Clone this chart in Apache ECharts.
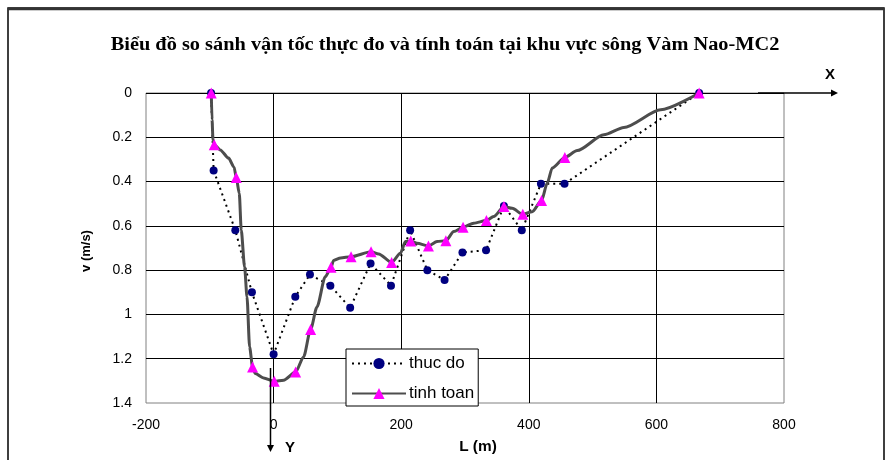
<!DOCTYPE html>
<html>
<head>
<meta charset="utf-8">
<script src="https://cdn.jsdelivr.net/npm/echarts@6/dist/echarts.min.js"></script>
<style>html,body{margin:0;padding:0;background:#fff}#c{width:886px;height:460px}</style>
</head>
<body>
<div id="c"></div>
<script>
// ---- data ----
var titleText = 'Biểu đồ so sánh vận tốc thực đo và tính toán tại khu vực sông Vàm Nao-MC2';
var xTicks = [-200, 0, 200, 400, 600, 800];
var yTicks = [0, 0.2, 0.4, 0.6, 0.8, 1, 1.2, 1.4];

// measured ("thuc do")
var measL = [-98, -94, -60, -34, 0, 34, 57, 89, 120, 152, 184, 214, 241, 268, 296, 333, 361, 389, 419, 456, 667];
var measV = [0, 0.35, 0.62, 0.90, 1.18, 0.92, 0.82, 0.87, 0.97, 0.77, 0.87, 0.62, 0.80, 0.845, 0.72, 0.71, 0.51, 0.62, 0.41, 0.41, 0];

// computed ("tinh toan") - marked points (triangles)
var calcPtL = [-97.7, -93, -58.5, -33, 1, 34.5, 58, 90, 121.4, 152.8, 185, 215, 242.7, 270, 297, 333.6, 361, 390.6, 420, 456.5, 667];
var calcPtV = [0, 0.234, 0.382, 1.237, 1.302, 1.26, 1.068, 0.787, 0.739, 0.717, 0.765, 0.668, 0.691, 0.667, 0.606, 0.576, 0.513, 0.548, 0.486, 0.291, 0];

// computed profile - intermediate curve points
var calcCurveL = [-96.5, -95, -83.6, -70.6, -62, -53.8, -50.7, -45.5, -41.7, -37.6, -28.7, -15.7, 15.7, 47, 68, 81, 94, 105, 164.7, 198.7, 206.6, 224.9, 256.3, 282.4, 313.7, 345, 374, 405.3, 428.9, 436.7, 475.9, 517.6, 549, 606.6];
var calcCurveV = [0.12, 0.21, 0.257, 0.294, 0.335, 0.453, 0.619, 0.785, 0.920, 1.147, 1.267, 1.287, 1.297, 1.192, 0.966, 0.830, 0.756, 0.745, 0.727, 0.724, 0.671, 0.679, 0.671, 0.626, 0.588, 0.558, 0.521, 0.536, 0.407, 0.339, 0.260, 0.189, 0.156, 0.076];

// ---- build series data ----
var measData = measL.map(function (l, i) { return [l, measV[i]]; });
var calcAll = [];
calcPtL.forEach(function (l, i) { calcAll.push({ value: [l, calcPtV[i]], mark: true }); });
calcCurveL.forEach(function (l, i) { calcAll.push({ value: [l, calcCurveV[i]], mark: false }); });
calcAll.sort(function (a, b) { return a.value[0] - b.value[0]; });
var calcData = calcAll.map(function (d) {
  return d.mark ? { value: d.value } : { value: d.value, symbol: 'none' };
});

var chart = echarts.init(document.getElementById('c'), null, { renderer: 'canvas' });
var axisFont = 'Liberation Sans, Arial, sans-serif';

chart.setOption({
  backgroundColor: '#fff',
  animation: false,
  grid: {
    left: 146, right: 102, top: 93, bottom: 57,
    show: true, borderColor: '#808080', borderWidth: 1, backgroundColor: 'transparent'
  },
  legend: {
    left: 346, top: 349,
    orient: 'vertical',
    backgroundColor: '#fff',
    borderColor: '#000', borderWidth: 1,
    padding: [6, 4, 4, 5],
    itemGap: 13,
    itemWidth: 54, itemHeight: 14,
    textStyle: { fontFamily: axisFont, fontSize: 17, color: '#000', padding: [0, 0, 0, -2] },
    data: ['thuc do', 'tinh toan']
  },
  xAxis: {
    type: 'value',
    min: xTicks[0], max: xTicks[xTicks.length - 1], interval: xTicks[1] - xTicks[0],
    axisLine: { show: false },
    axisTick: { show: false },
    axisLabel: { color: '#000', fontFamily: axisFont, fontSize: 14, margin: 15 },
    splitLine: { show: true, showMinLine: false, showMaxLine: false, lineStyle: { color: '#000', width: 1 } }
  },
  yAxis: {
    type: 'value',
    inverse: true,
    min: yTicks[0], max: yTicks[yTicks.length - 1], interval: yTicks[1] - yTicks[0],
    axisLine: { show: false },
    axisTick: { show: false },
    axisLabel: { color: '#000', fontFamily: axisFont, fontSize: 14, margin: 14 },
    splitLine: { show: true, showMinLine: true, showMaxLine: false, lineStyle: { color: '#000', width: 1 } }
  },
  series: [
    {
      name: 'thuc do',
      type: 'line',
      data: measData,
      symbol: 'circle',
      symbolSize: 8,
      showAllSymbol: true,
      itemStyle: { color: '#000080' },
      lineStyle: { color: '#000', width: 2, type: [2, 4] },
      z: 2
    },
    {
      name: 'tinh toan',
      type: 'line',
      data: calcData,
      symbol: 'triangle',
      symbolSize: 11,
      showAllSymbol: true,
      smooth: 0.25,
      smoothMonotone: 'x',
      itemStyle: { color: '#ff00ff' },
      lineStyle: { color: '#4d4d4d', width: 3 },
      z: 3
    }
  ],
  graphic: [
    { type: 'rect', shape: { x: 8, y: 8, width: 876, height: 470 }, style: { fill: null, stroke: '#000', lineWidth: 1.5 }, z: 100 },
    { type: 'line', shape: { x1: 8, y1: 9, x2: 884, y2: 9 }, style: { stroke: '#333', lineWidth: 2.5 }, z: 100 },
    // title (slightly stretched horizontally like the reference)
    { type: 'text', x: 445, y: 45, scaleX: 1.13, style: { text: titleText, font: 'bold 18px Liberation Serif, Times New Roman, serif', fill: '#000', align: 'center', verticalAlign: 'middle' }, z: 50 },
    // X arrow
    { type: 'line', shape: { x1: 758, y1: 93, x2: 832, y2: 93 }, style: { stroke: '#000', lineWidth: 1.5 }, z: 50 },
    { type: 'polygon', shape: { points: [[831, 89.5], [838, 93], [831, 96.5]] }, style: { fill: '#000' }, z: 50 },
    { type: 'text', x: 830, y: 75, style: { text: 'X', font: 'bold 15px Liberation Sans, Arial, sans-serif', fill: '#000', align: 'center', verticalAlign: 'middle' }, z: 50 },
    // Y arrow
    { type: 'line', shape: { x1: 270.5, y1: 368, x2: 270.5, y2: 446 }, style: { stroke: '#000', lineWidth: 1.5 }, z: 50 },
    { type: 'polygon', shape: { points: [[267, 445], [274, 445], [270.5, 452]] }, style: { fill: '#000' }, z: 50 },
    { type: 'text', x: 290, y: 448, style: { text: 'Y', font: 'bold 15px Liberation Sans, Arial, sans-serif', fill: '#000', align: 'center', verticalAlign: 'middle' }, z: 50 },
    // axis titles
    { type: 'text', x: 478, y: 447, scaleX: 1.1, style: { text: 'L (m)', font: 'bold 14px Liberation Sans, Arial, sans-serif', fill: '#000', align: 'center', verticalAlign: 'middle' }, z: 50 },
    { type: 'text', x: 86, y: 251, rotation: Math.PI / 2, style: { text: 'v (m/s)', font: 'bold 13px Liberation Sans, Arial, sans-serif', fill: '#000', align: 'center', verticalAlign: 'middle' }, z: 50 }
  ]
});
</script>
</body>
</html>
